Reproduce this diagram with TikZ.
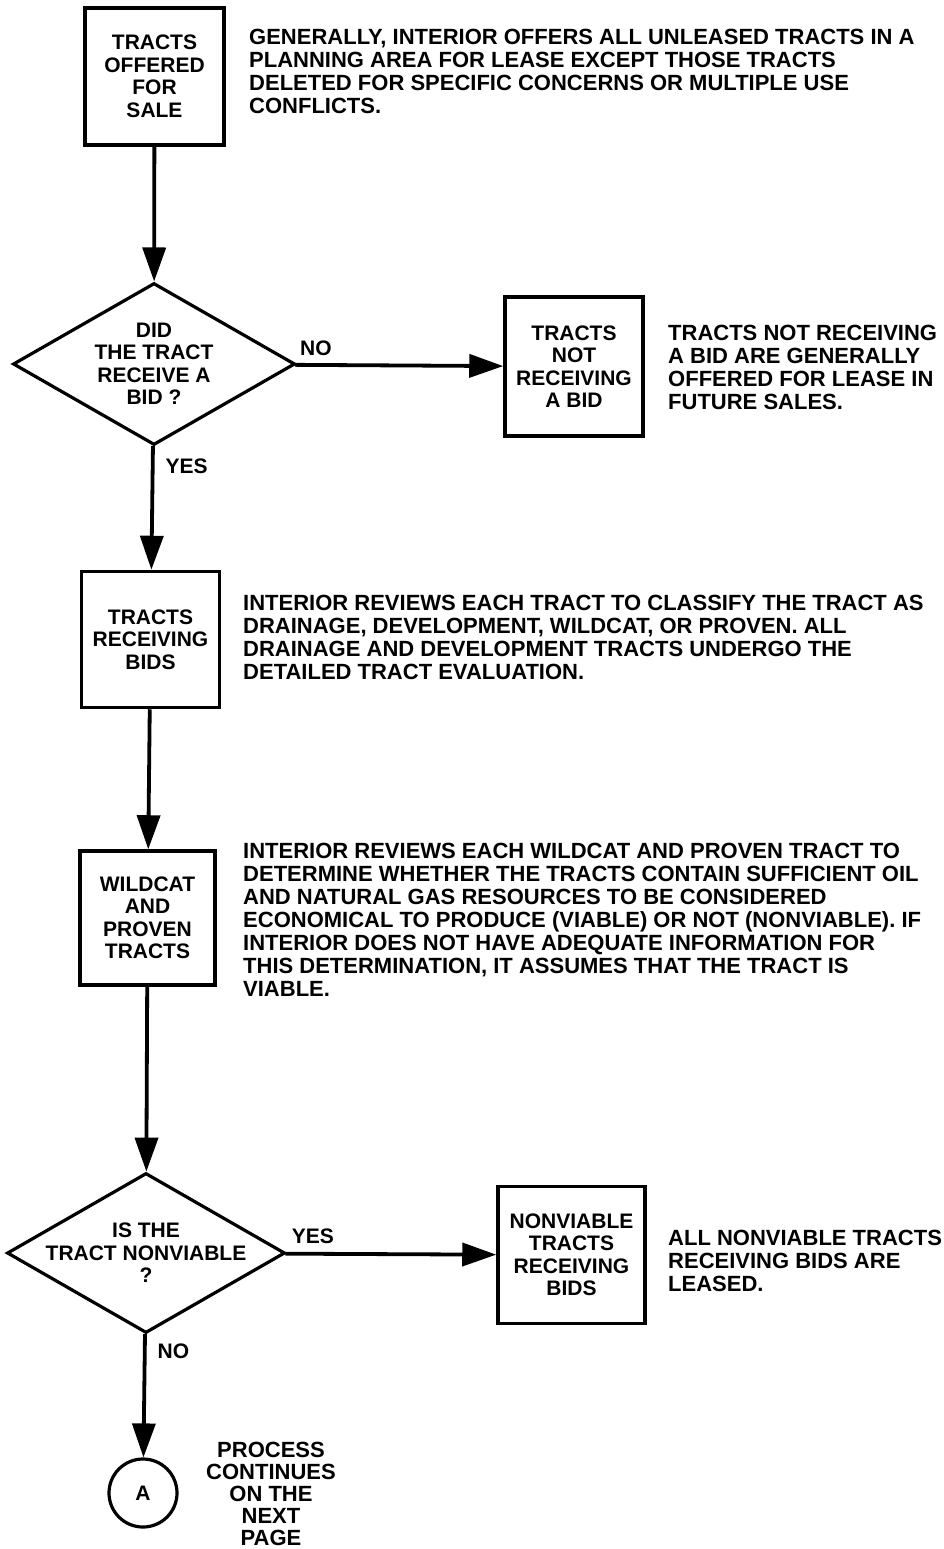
\documentclass[tikz,border=0pt]{standalone}
\usepackage{fontspec}
\setmainfont{Liberation Sans}
\usepackage{tikz}
\usetikzlibrary{arrows.meta,shapes.geometric,positioning}
\newcommand{\boxfont}{\bfseries\fontsize{21}{22.5}\selectfont}
\newcommand{\notefont}{\bfseries\fontsize{22}{23}\selectfont}
\tikzset{
  box/.style={draw, line width=3.5pt, inner sep=0pt, align=center, font=\boxfont},
  dec/.style={draw, diamond, line width=3.2pt, inner sep=0pt},
  conn/.style={draw, circle, line width=3.2pt, minimum size=68pt, inner sep=0pt, font=\boxfont},
  note/.style={anchor=north west, align=left, inner sep=0pt, font=\notefont},
  lbl/.style={inner sep=1pt, font=\boxfont},
  flow/.style={line width=3.8pt, -{Triangle[length=34pt,width=23pt]}},
}

\begin{document}
\begin{tikzpicture}[x=1pt,y=-1pt]
    \useasboundingbox (0,0) rectangle (944,1549);
    % the steps
    \node[box, minimum width=139pt, minimum height=137pt] (offered) at (154.5,76.5) {TRACTS\\OFFERED\\FOR\\SALE};
    \node[dec, minimum width=282pt, minimum height=162pt,
      label={[lbl,align=center]center:DID\\THE TRACT\\RECEIVE A\\BID ?}] (gotbid) at (154,364) {};
    \node[box, minimum width=138pt, minimum height=139pt] (nobid) at (574,366.5) {TRACTS\\NOT\\RECEIVING\\A BID};
    \node[box, minimum width=138pt, minimum height=136pt] (bids) at (150.5,639.5) {TRACTS\\RECEIVING\\BIDS};
    \node[box, minimum width=135pt, minimum height=134pt] (wildcat) at (147.5,918) {WILDCAT\\AND\\PROVEN\\TRACTS};
    \node[dec, minimum width=278pt, minimum height=160pt,
      label={[lbl,align=center]center:IS THE\\TRACT NONVIABLE\\?}] (nonviable) at (146,1253) {};
    \node[box, minimum width=147pt, minimum height=137pt] (leased) at (571.5,1255) {NONVIABLE\\TRACTS\\RECEIVING\\BIDS};
    \node[conn] (A) at (143,1493) {A};
    % the notes
    \node[note] (offerednote) at (249,29.3) {GENERALLY, INTERIOR OFFERS ALL UNLEASED TRACTS IN A\\PLANNING AREA FOR LEASE EXCEPT THOSE TRACTS\\DELETED FOR SPECIFIC CONCERNS OR MULTIPLE USE\\CONFLICTS.};
    \node[note] (nobidnote) at (668,325) {TRACTS NOT RECEIVING\\A BID ARE GENERALLY\\OFFERED FOR LEASE IN\\FUTURE SALES.};
    \node[note] (bidsnote) at (243,595) {INTERIOR REVIEWS EACH TRACT TO CLASSIFY THE TRACT AS\\DRAINAGE, DEVELOPMENT, WILDCAT, OR PROVEN. ALL\\DRAINAGE AND DEVELOPMENT TRACTS UNDERGO THE\\DETAILED TRACT EVALUATION.};
    \node[note] (wildcatnote) at (243,843) {INTERIOR REVIEWS EACH WILDCAT AND PROVEN TRACT TO\\DETERMINE WHETHER THE TRACTS CONTAIN SUFFICIENT OIL\\AND NATURAL GAS RESOURCES TO BE CONSIDERED\\ECONOMICAL TO PRODUCE (VIABLE) OR NOT (NONVIABLE). IF\\INTERIOR DOES NOT HAVE ADEQUATE INFORMATION FOR\\THIS DETERMINATION, IT ASSUMES THAT THE TRACT IS\\VIABLE.};
    \node[note] (leasednote) at (668,1230) {ALL NONVIABLE TRACTS\\RECEIVING BIDS ARE\\LEASED.};
    \node[note, anchor=north, align=center, font=\bfseries\fontsize{22}{22}\selectfont] (nextpage) at (271,1442) {PROCESS\\CONTINUES\\ON THE\\NEXT\\PAGE};
    % the flow
    \draw[flow] (offered) to (gotbid);
    \draw[flow] (gotbid) to node[lbl, pos=0.1, above=6pt]{NO} (nobid);
    \draw[flow] (gotbid) to node[lbl, pos=0.16, right=10pt]{YES} (bids);
    \draw[flow] (bids) to (wildcat);
    \draw[flow] (wildcat) to (nonviable);
    \draw[flow] (nonviable) to node[lbl, pos=0.13, above=7pt]{YES} (leased);
    \draw[flow] (nonviable) to node[lbl, pos=0.14, right=10pt]{NO} (A);
\end{tikzpicture}
\end{document}
